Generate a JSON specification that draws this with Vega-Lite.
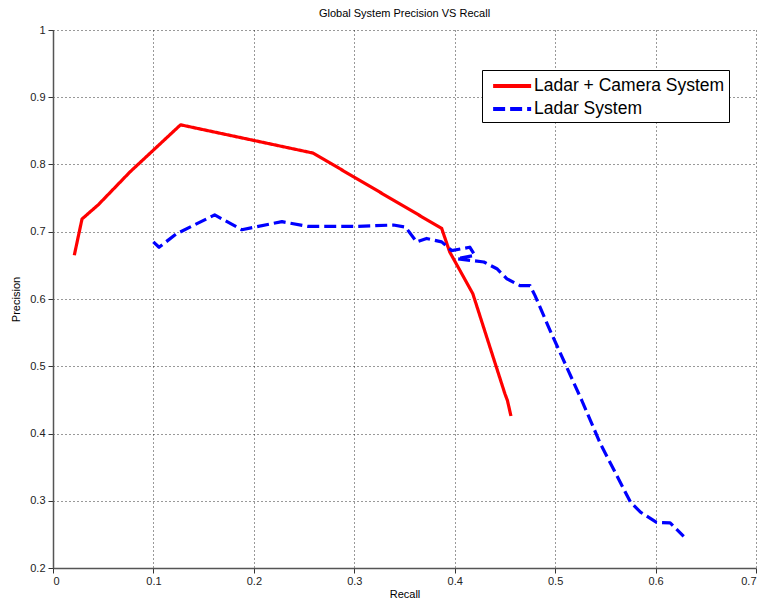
{
  "$schema": "https://vega.github.io/schema/vega-lite/v6.json",
  "width": 703,
  "height": 538,
  "autosize": {"type": "none"},
  "padding": {"left": 53, "top": 30, "right": 8, "bottom": 36},
  "background": "white",
  "title": {"text": "Global System Precision VS Recall", "font": "Liberation Sans", "fontSize": 11, "fontWeight": "normal", "color": "#000", "offset": 5, "anchor": "middle"},
  "config": {
    "view": {"stroke": null},
    "axis": {
      "labelFont": "Liberation Sans", "labelFontSize": 11, "labelColor": "#222",
      "titleFont": "Liberation Sans", "titleFontSize": 11, "titleFontWeight": "normal", "titleColor": "#000",
      "domainColor": "#555", "domainWidth": 1.5,
      "tickColor": "#333", "tickSize": 5,
      "grid": true, "gridColor": "#000", "gridDash": [1, 3], "gridOpacity": 0.8, "gridWidth": 1
    }
  },
  "data": {"values": [
    {"s": "Ladar + Camera System", "o": 1, "recall": 0.0212, "precision": 0.665},
    {"s": "Ladar + Camera System", "o": 2, "recall": 0.0289, "precision": 0.719},
    {"s": "Ladar + Camera System", "o": 3, "recall": 0.045, "precision": 0.74},
    {"s": "Ladar + Camera System", "o": 4, "recall": 0.0767, "precision": 0.789},
    {"s": "Ladar + Camera System", "o": 5, "recall": 0.127, "precision": 0.859},
    {"s": "Ladar + Camera System", "o": 6, "recall": 0.259, "precision": 0.817},
    {"s": "Ladar + Camera System", "o": 7, "recall": 0.387, "precision": 0.705},
    {"s": "Ladar + Camera System", "o": 8, "recall": 0.395, "precision": 0.67},
    {"s": "Ladar + Camera System", "o": 9, "recall": 0.418, "precision": 0.608},
    {"s": "Ladar + Camera System", "o": 10, "recall": 0.45, "precision": 0.459},
    {"s": "Ladar + Camera System", "o": 11, "recall": 0.4525, "precision": 0.449},
    {"s": "Ladar + Camera System", "o": 12, "recall": 0.456, "precision": 0.426},
    {"s": "Ladar System", "o": 1, "recall": 0.0999, "precision": 0.685},
    {"s": "Ladar System", "o": 2, "recall": 0.1056, "precision": 0.677},
    {"s": "Ladar System", "o": 3, "recall": 0.123, "precision": 0.697},
    {"s": "Ladar System", "o": 4, "recall": 0.161, "precision": 0.725},
    {"s": "Ladar System", "o": 5, "recall": 0.188, "precision": 0.703},
    {"s": "Ladar System", "o": 6, "recall": 0.228, "precision": 0.715},
    {"s": "Ladar System", "o": 7, "recall": 0.254, "precision": 0.708},
    {"s": "Ladar System", "o": 8, "recall": 0.302, "precision": 0.708},
    {"s": "Ladar System", "o": 9, "recall": 0.339, "precision": 0.71},
    {"s": "Ladar System", "o": 10, "recall": 0.351, "precision": 0.707},
    {"s": "Ladar System", "o": 11, "recall": 0.362, "precision": 0.685},
    {"s": "Ladar System", "o": 12, "recall": 0.372, "precision": 0.69},
    {"s": "Ladar System", "o": 13, "recall": 0.387, "precision": 0.685},
    {"s": "Ladar System", "o": 14, "recall": 0.397, "precision": 0.672},
    {"s": "Ladar System", "o": 15, "recall": 0.415, "precision": 0.677},
    {"s": "Ladar System", "o": 16, "recall": 0.42, "precision": 0.665},
    {"s": "Ladar System", "o": 17, "recall": 0.402, "precision": 0.66},
    {"s": "Ladar System", "o": 18, "recall": 0.429, "precision": 0.655},
    {"s": "Ladar System", "o": 19, "recall": 0.442, "precision": 0.645},
    {"s": "Ladar System", "o": 20, "recall": 0.452, "precision": 0.63},
    {"s": "Ladar System", "o": 21, "recall": 0.465, "precision": 0.62},
    {"s": "Ladar System", "o": 22, "recall": 0.475, "precision": 0.62},
    {"s": "Ladar System", "o": 23, "recall": 0.48, "precision": 0.605},
    {"s": "Ladar System", "o": 24, "recall": 0.495, "precision": 0.553},
    {"s": "Ladar System", "o": 25, "recall": 0.5266, "precision": 0.449},
    {"s": "Ladar System", "o": 26, "recall": 0.545, "precision": 0.385},
    {"s": "Ladar System", "o": 27, "recall": 0.575, "precision": 0.298},
    {"s": "Ladar System", "o": 28, "recall": 0.585, "precision": 0.283},
    {"s": "Ladar System", "o": 29, "recall": 0.601, "precision": 0.268},
    {"s": "Ladar System", "o": 30, "recall": 0.6145, "precision": 0.267},
    {"s": "Ladar System", "o": 31, "recall": 0.628, "precision": 0.247}
  ]},
  "mark": {"type": "line", "strokeWidth": 3.2, "strokeCap": "butt", "strokeJoin": "round"},
  "encoding": {
    "x": {"field": "recall", "type": "quantitative", "title": "Recall",
          "scale": {"domain": [0, 0.7], "nice": false, "zero": false},
          "axis": {"values": [0, 0.1, 0.2, 0.3, 0.4, 0.5, 0.6, 0.7], "format": "~g", "labelPadding": 2, "titlePadding": 2}},
    "y": {"field": "precision", "type": "quantitative", "title": "Precision",
          "scale": {"domain": [0.2, 1], "nice": false, "zero": false},
          "axis": {"values": [0.2, 0.3, 0.4, 0.5, 0.6, 0.7, 0.8, 0.9, 1], "format": "~g", "labelPadding": 3, "titlePadding": 8}},
    "order": {"field": "o", "type": "quantitative"},
    "color": {"field": "s", "type": "nominal", "title": null,
              "scale": {"domain": ["Ladar + Camera System", "Ladar System"], "range": ["#ff0000", "#0000ff"]},
              "legend": {"orient": "none", "legendX": 429, "legendY": 40, "symbolType": "M-0.5,0H3.4", "symbolSize": 380,
                         "symbolStrokeWidth": 4, "labelFont": "Liberation Sans", "labelFontSize": 17.5, "labelColor": "#000",
                         "strokeColor": "#000", "fillColor": "#fff", "padding": 4, "rowPadding": 2, "labelOffset": 24, "labelLimit": 400}},
    "strokeDash": {"field": "s", "type": "nominal", "title": null,
                   "scale": {"domain": ["Ladar + Camera System", "Ladar System"], "range": [[1, 0], [12, 5]]}}
  }
}
